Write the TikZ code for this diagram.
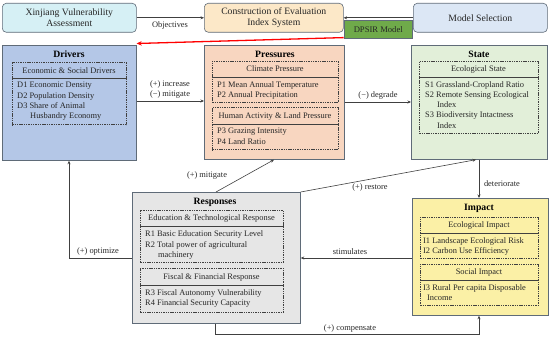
\documentclass[tikz,border=0pt]{standalone}
\usepackage{fontspec}
\setmainfont{Liberation Serif}
\usetikzlibrary{arrows.meta}
\definecolor{cXin}{HTML}{D6F0F5}
\definecolor{cCon}{HTML}{FCE8C8}
\definecolor{cMod}{HTML}{DCE7F5}
\definecolor{cDps}{HTML}{6FAA4A}
\definecolor{cDrv}{HTML}{B4C7E7}
\definecolor{cPre}{HTML}{F8D6C0}
\definecolor{cSta}{HTML}{E2EFD9}
\definecolor{cRes}{HTML}{E6E6E6}
\definecolor{cImp}{HTML}{FBF0A6}
\definecolor{cLine}{HTML}{404040}
\definecolor{cBord}{HTML}{5F6B78}
\begin{document}
\begin{tikzpicture}[x=1pt,y=-1pt,
  topbox/.style={draw=cBord, line width=0.6pt, rounded corners=4pt, anchor=north west, inner sep=0pt, align=center, font=\fontsize{9.7}{11.5}\selectfont, text=black!85},
  obox/.style={draw=cBord, line width=0.7pt, anchor=north west, inner sep=0pt},
  ibox/.style={draw=black!75, dash pattern=on 1.4pt off 0.9pt, line width=0.5pt, anchor=north west, inner sep=0pt},
  divline/.style={draw=black!75, line width=0.5pt},
  ttl/.style={font=\bfseries\fontsize{9.7}{11}\selectfont, inner sep=0pt},
  hdr/.style={font=\fontsize{8.4}{10}\selectfont, inner sep=0pt, text=black!85},
  itm/.style={font=\fontsize{8.4}{10}\selectfont, anchor=west, inner sep=0pt, text=black!85},
  lbl/.style={font=\fontsize{8.4}{10}\selectfont, inner sep=0pt, text=black!85},
  conn/.style={draw=cLine, line width=0.6pt, -{Stealth[length=3.5pt,width=3pt]}},
  redarrow/.style={draw=red, line width=1.3pt, -{Stealth[length=5pt,width=4.5pt]}}
]
\useasboundingbox (0,0) rectangle (550,339);

% top row
\node[topbox, fill=cXin, minimum width=134pt, minimum height=29pt] (xin) at (2,3) {Xinjiang Vulnerability\\Assessment};
\node[topbox, fill=cCon, minimum width=139pt, minimum height=29pt] (construct) at (204,3) {Construction of Evaluation\\Index System};
\node[topbox, fill=cMod, minimum width=134pt, minimum height=29pt] (model) at (413,3) {Model Selection};
\node[draw=cBord, line width=0.5pt, fill=cDps, anchor=north west, minimum width=68pt, minimum height=18pt, inner sep=0pt, font=\fontsize{8.6}{10}\selectfont, text=black!85] (dpsir) at (344,20) {DPSIR Model};

\draw[conn] (xin.east) -- (construct.west);
\node[lbl] (obj) at (170,25.5) {Objectives};
\draw[conn] (model.west) -- (construct.east);

% Drivers
\node[obox, fill=cDrv, minimum width=134pt, minimum height=115pt] (drivers) at (2,45) {};
\node[ttl] (drvT) at (69,54) {Drivers};
\node[ibox, minimum width=114pt, minimum height=62pt] (drvI) at (12,62.5) {};
\draw[divline] (drvI.west |- 0,78) -- (drvI.east |- 0,78);
\node[hdr] (drvH) at (69,70.5) {Economic \& Social Drivers};
\node[itm] (d1) at (17,86) {D1 Economic Density};
\node[itm] (d2) at (17,96) {D2 Population Density};
\node[itm] (d3) at (17,106) {D3 Share of Animal};
\node[itm] (d3b) at (30,116.5) {Husbandry Economy};

% Pressures
\node[obox, fill=cPre, minimum width=140pt, minimum height=114pt] (pressures) at (204,45) {};
\node[ttl] (preT) at (275,54) {Pressures};
\node[ibox, minimum width=126pt, minimum height=41pt] (preI1) at (212,61) {};
\draw[divline] (preI1.west |- 0,77) -- (preI1.east |- 0,77);
\node[hdr] (preH1) at (275,69) {Climate Pressure};
\node[itm] (p1) at (217,85) {P1 Mean Annual Temperature};
\node[itm] (p2) at (217,95) {P2 Annual Precipitation};
\node[ibox, minimum width=126pt, minimum height=42pt] (preI2) at (212,107.5) {};
\draw[divline] (preI2.west |- 0,124) -- (preI2.east |- 0,124);
\node[hdr] (preH2) at (275,116) {Human Activity \& Land Pressure};
\node[itm] (p3) at (217,132) {P3 Grazing Intensity};
\node[itm] (p4) at (217,142) {P4 Land Ratio};

% State
\node[obox, fill=cSta, minimum width=136pt, minimum height=114pt] (state) at (411,45) {};
\node[ttl] (staT) at (479,54) {State};
\node[ibox, minimum width=119pt, minimum height=72pt] (staI) at (419,61) {};
\draw[divline] (staI.west |- 0,77) -- (staI.east |- 0,77);
\node[hdr] (staH) at (478.5,69) {Ecological State};
\node[itm] (s1) at (425,85) {S1 Grassland-Cropland Ratio};
\node[itm] (s2) at (425,95) {S2 Remote Sensing Ecological};
\node[itm] (s2b) at (437,105) {Index};
\node[itm] (s3) at (425,115) {S3 Biodiversity Intactness};
\node[itm] (s3b) at (437,125.5) {Index};

% Responses
\node[obox, fill=cRes, minimum width=168pt, minimum height=131pt] (responses) at (132,192) {};
\node[ttl] (resT) at (215,202) {Responses};
\node[ibox, minimum width=143pt, minimum height=52pt] (resI1) at (140,210) {};
\draw[divline] (resI1.west |- 0,226) -- (resI1.east |- 0,226);
\node[hdr] (resH1) at (211.5,218) {Education \& Technological Response};
\node[itm] (r1) at (145,234.5) {R1 Basic Education Security Level};
\node[itm] (r2) at (145,245) {R2 Total power of agricultural};
\node[itm] (r2b) at (158,255) {machinery};
\node[ibox, minimum width=143pt, minimum height=44pt] (resI2) at (140,268) {};
\draw[divline] (resI2.west |- 0,285) -- (resI2.east |- 0,285);
\node[hdr] (resH2) at (211.5,277) {Fiscal \& Financial Response};
\node[itm] (r3) at (145,293) {R3 Fiscal Autonomy Vulnerability};
\node[itm] (r4) at (145,303) {R4 Financial Security Capacity};

% Impact
\node[obox, fill=cImp, minimum width=136pt, minimum height=117pt] (impact) at (412,198) {};
\node[ttl] (impT) at (479,208) {Impact};
\node[ibox, minimum width=118pt, minimum height=41pt] (impI1) at (420,217) {};
\draw[divline] (impI1.west |- 0,233) -- (impI1.east |- 0,233);
\node[hdr] (impH1) at (479,225) {Ecological Impact};
\node[itm] (i1) at (423,241) {I1 Landscape Ecological Risk};
\node[itm] (i2) at (423,251) {I2 Carbon Use Efficiency};
\node[ibox, minimum width=118pt, minimum height=41pt] (impI2) at (420,264) {};
\draw[divline] (impI2.west |- 0,280) -- (impI2.east |- 0,280);
\node[hdr] (impH2) at (479,272) {Social Impact};
\node[itm] (i3) at (423,288) {I3 Rural Per capita Disposable};
\node[itm] (i3b) at (427,298) {Income};

% connectors
\draw[redarrow] ([yshift=-5pt]construct.south east) -- ([yshift=1.5pt]drivers.north east);
\draw[conn] (drivers.east |- 0,101) -- (pressures.west |- 0,101);
\node[lbl] (inc) at (170,84) {(+) increase};
\node[lbl] (mit1) at (170,94) {(\textminus) mitigate};
\draw[conn] (pressures.east |- 0,102) -- (state.west |- 0,102);
\node[lbl] (deg) at (378,95) {(\textminus) degrade};
\draw[conn] (479,0 |- state.south) -- (479,0 |- impact.north);
\node[lbl] (det) at (502,184) {deteriorate};
\draw[conn] (impact.west |- 0,258) -- (responses.east |- 0,258);
\node[lbl] (stim) at (350,251.5) {stimulates};
\draw[conn] (215,0 |- responses.south) -- (215,334) -- (479,334) -- (479,0 |- impact.south);
\node[lbl] (comp) at (350,328) {(+) compensate};
\draw[conn] (responses.west |- 0,258) -- (69,258) -- (69,0 |- drivers.south);
\node[lbl] (opt) at (98,251.5) {(+) optimize};
\draw[conn] (216,0 |- responses.north) -- (274,0 |- pressures.south);
\node[lbl] (mit2) at (207,175) {(+) mitigate};
\draw[conn] (responses.north east) -- (476,0 |- state.south);
\node[lbl] (rest) at (370,187) {(+) restore};
\end{tikzpicture}
\end{document}
